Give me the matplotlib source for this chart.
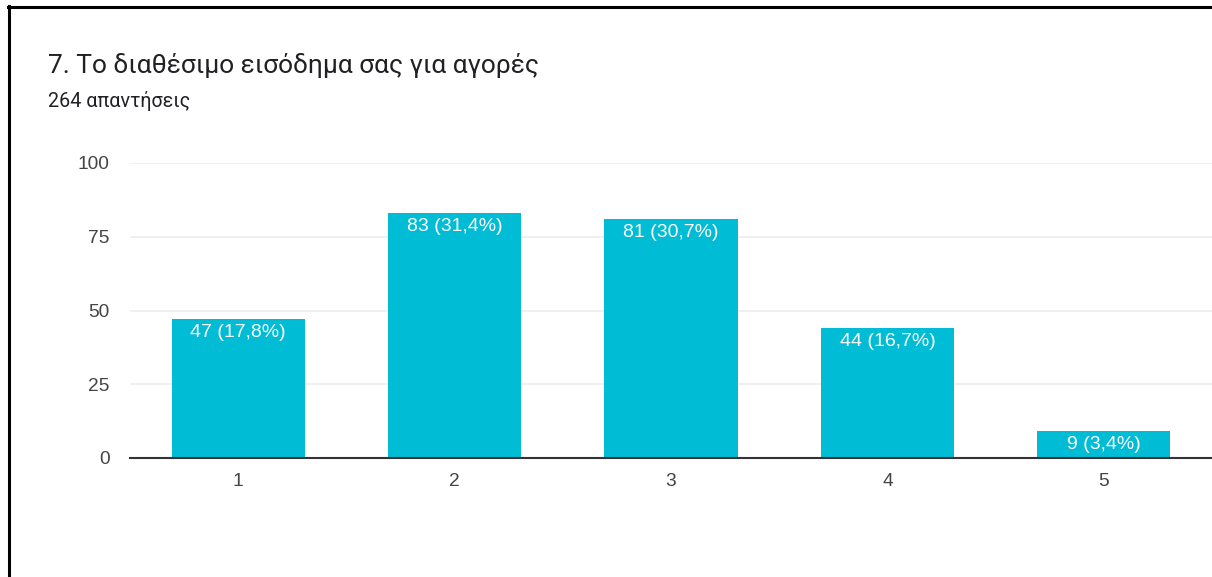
import matplotlib
matplotlib.use("Agg")
import matplotlib.pyplot as plt
from matplotlib.lines import Line2D

categories = ["1", "2", "3", "4", "5"]
counts = [47, 83, 81, 44, 9]
percents = ["17,8%", "31,4%", "30,7%", "16,7%", "3,4%"]
yticks = [0, 25, 50, 75, 100]
title = "7. Το διαθέσιμο εισόδημα σας για αγορές"
subtitle = "264 απαντήσεις"

W, H = 1212, 577
fig = plt.figure(figsize=(W / 100, H / 100), dpi=100)
fig.patch.set_facecolor("white")

# axes placement in pixels
ax_left, ax_right = 130, 1212
ax_bottom_px, ax_top_px = 458, 163
ax = fig.add_axes([ax_left / W, 1 - ax_bottom_px / H,
                   (ax_right - ax_left) / W, (ax_bottom_px - ax_top_px) / H])

x = list(range(1, len(categories) + 1))
ax.bar(x, counts, width=0.615, color="#00BCD4", zorder=3)
ax.set_xlim(0.5, 5.5)
ax.set_ylim(0, 100)
ax.set_yticks(yticks)
ax.set_xticks(x)
ax.set_xticklabels(categories)
ax.grid(axis="y", color="#ededed", linewidth=1.2, zorder=0)
ax.set_axisbelow(True)
for s in ["top", "right", "left"]:
    ax.spines[s].set_visible(False)
ax.spines["bottom"].set_color("#333333")
ax.spines["bottom"].set_linewidth(1.5)
ax.spines["bottom"].set_zorder(4)
ax.tick_params(axis="both", length=0, labelsize=13.8, labelcolor="#444444",
               labelfontfamily="Liberation Sans")
ax.tick_params(axis="y", pad=14.5)
ax.tick_params(axis="x", pad=10.5)

for xi, c, p in zip(x, counts, percents):
    ax.annotate(f"{c} ({p})", xy=(xi, c), xytext=(0, -3.5), textcoords="offset points",
                ha="center", va="top", color="white", fontsize=14,
                family="Liberation Sans", zorder=5)

fig.text(48 / W, 1 - 66 / H, title, fontsize=19, color="#202124",
         family="Roboto", va="center", ha="left")
fig.text(48 / W, 1 - 101 / H, subtitle, fontsize=14.2, color="#202124",
         family="Roboto", va="center", ha="left")

# frame lines (top and left)
fig.add_artist(Line2D([8 / W, 1], [1 - 7 / H, 1 - 7 / H], color="black", linewidth=2.2,
                      transform=fig.transFigure))
fig.add_artist(Line2D([9 / W, 9 / W], [1 - 6 / H, 0], color="black", linewidth=2.2,
                      transform=fig.transFigure))

fig.savefig("out.png", dpi=100)
